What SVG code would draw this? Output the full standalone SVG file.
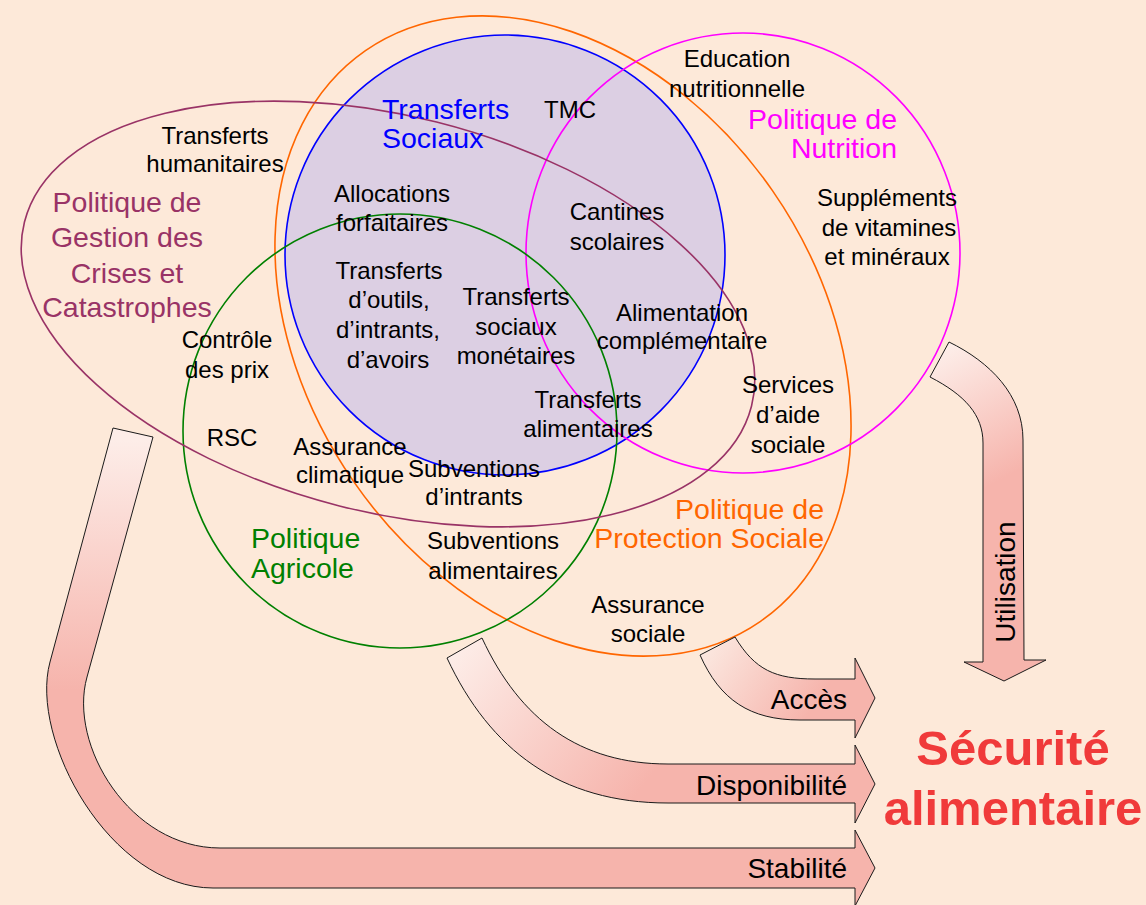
<svg xmlns="http://www.w3.org/2000/svg" width="1146" height="905" viewBox="0 0 1146 905">
<defs>
<style>
.t{font-family:"Liberation Sans",Arial,sans-serif;font-size:24px;fill:#000;text-anchor:middle}
.h{font-family:"Liberation Sans",Arial,sans-serif;font-size:28.5px}
.lab{font-family:"Liberation Sans",Arial,sans-serif;font-size:28px;fill:#000;text-anchor:end}
.ring{fill:none;stroke-width:1.6}
.arrow{stroke:#1a1a1a;stroke-width:1}
</style>
<linearGradient id="gStab" gradientUnits="userSpaceOnUse" x1="0" y1="440" x2="0" y2="690">
<stop offset="0" stop-color="#FDEDE8"/><stop offset="1" stop-color="#F6B4AC"/>
</linearGradient>
<linearGradient id="gDisp" gradientUnits="userSpaceOnUse" x1="460" y1="645" x2="640" y2="790">
<stop offset="0" stop-color="#FDEDE8"/><stop offset="1" stop-color="#F6B4AC"/>
</linearGradient>
<linearGradient id="gAcc" gradientUnits="userSpaceOnUse" x1="712" y1="645" x2="810" y2="712">
<stop offset="0" stop-color="#FBE6DE"/><stop offset="1" stop-color="#F6B4AC"/>
</linearGradient>
<linearGradient id="gUtil" gradientUnits="userSpaceOnUse" x1="935" y1="355" x2="1000" y2="480">
<stop offset="0" stop-color="#FDEDE8"/><stop offset="1" stop-color="#F6B4AC"/>
</linearGradient>
</defs>
<rect width="1146" height="905" fill="#FDE9D9"/>

<g id="transferts-sociaux-fill">
<circle cx="505" cy="255" r="220" fill="#DCCFE3"/>
</g>

<g id="politique-protection-sociale">
<ellipse class="ring" cx="563" cy="336" rx="347" ry="255" transform="rotate(55.3 563 336)" stroke="#FF6600"/>
</g>
<g id="transferts-sociaux">
<circle class="ring" cx="505" cy="255" r="220" stroke="#0000FF"/>
</g>
<g id="politique-nutrition">
<ellipse class="ring" cx="743" cy="253" rx="217" ry="220" stroke="#FF00FF"/>
</g>
<g id="politique-agricole">
<circle class="ring" cx="400" cy="431" r="217" stroke="#008000"/>
</g>
<g id="politique-gestion-crises">
<ellipse class="ring" cx="388" cy="314" rx="375" ry="198" transform="rotate(14.2 388 314)" stroke="#993366"/>
</g>

<g id="connectors">
<path class="arrow" fill="url(#gStab)" d="M113,428 L153,437 L87,677 C68,745 130,848 220,848 L855,848 L855,830 L875,868 L855,906 L855,888 L213,888 C110,888 29,739 50,662 Z"/>
<path class="arrow" fill="url(#gDisp)" d="M482,638 C520,720 580,764 668,764 L855,764 L855,745 L875,784 L855,823 L855,803 L668,803 C560,803 490,750 447,658 Z"/>
<path class="arrow" fill="url(#gAcc)" d="M735,637 C755,670 775,679 815,679 L855,679 L855,658 L875,698 L855,738 L855,720 L800,720 C750,720 720,700 700,655 Z"/>
<path class="arrow" fill="url(#gUtil)" d="M949,342 C990,362 1023,395 1023,440 L1024,660 L1046,660 L1004,681 L964,662 L983,662 L983,443 C983,415 965,395 930,377 Z"/>
<text class="lab" x="847" y="709">Accès</text>
<text class="lab" x="847" y="795">Disponibilité</text>
<text class="lab" x="847" y="878">Stabilité</text>
<text class="lab" transform="translate(1015,582) rotate(-90)" style="text-anchor:middle">Utilisation</text>
</g>

<g id="titles">
<text class="h" fill="#993366" text-anchor="middle"><tspan x="127" y="212">Politique de</tspan><tspan x="127" y="247">Gestion des</tspan><tspan x="127" y="283">Crises et</tspan><tspan x="127" y="317">Catastrophes</tspan></text>
<text class="h" fill="#0000FF"><tspan x="382" y="119">Transferts</tspan><tspan x="382" y="148">Sociaux</tspan></text>
<text class="h" fill="#FF00FF" text-anchor="end"><tspan x="897" y="129">Politique de</tspan><tspan x="897" y="158">Nutrition</tspan></text>
<text class="h" fill="#008000"><tspan x="251" y="548">Politique</tspan><tspan x="251" y="578">Agricole</tspan></text>
<text class="h" fill="#FF6600" text-anchor="end"><tspan x="824" y="519">Politique de</tspan><tspan x="824" y="548">Protection Sociale</tspan></text>
</g>

<g id="n-transferts-humanitaires"><text class="t"><tspan x="215" y="144">Transferts</tspan><tspan x="215" y="172">humanitaires</tspan></text></g>
<g id="n-controle-prix"><text class="t"><tspan x="227" y="348">Contrôle</tspan><tspan x="227" y="378">des prix</tspan></text></g>
<g id="n-rsc"><text class="t" x="232" y="446">RSC</text></g>
<g id="n-assurance-climatique"><text class="t"><tspan x="350" y="455">Assurance</tspan><tspan x="350" y="483">climatique</tspan></text></g>
<g id="n-subventions-intrants"><text class="t"><tspan x="474" y="477">Subventions</tspan><tspan x="474" y="505">d’intrants</tspan></text></g>
<g id="n-subventions-alimentaires"><text class="t"><tspan x="493" y="549">Subventions</tspan><tspan x="493" y="579">alimentaires</tspan></text></g>
<g id="n-assurance-sociale"><text class="t"><tspan x="648" y="613">Assurance</tspan><tspan x="648" y="642">sociale</tspan></text></g>
<g id="n-tmc"><text class="t" x="570" y="118">TMC</text></g>
<g id="n-allocations"><text class="t"><tspan x="392" y="202">Allocations</tspan><tspan x="392" y="231">forfaitaires</tspan></text></g>
<g id="n-cantines"><text class="t"><tspan x="617" y="220">Cantines</tspan><tspan x="617" y="250">scolaires</tspan></text></g>
<g id="n-transferts-outils"><text class="t"><tspan x="389" y="279">Transferts</tspan><tspan x="389" y="308">d’outils,</tspan><tspan x="388" y="338">d’intrants,</tspan><tspan x="388" y="368">d’avoirs</tspan></text></g>
<g id="n-transferts-monetaires"><text class="t"><tspan x="516" y="305">Transferts</tspan><tspan x="516" y="335">sociaux</tspan><tspan x="516" y="364">monétaires</tspan></text></g>
<g id="n-transferts-alimentaires"><text class="t"><tspan x="588" y="408">Transferts</tspan><tspan x="588" y="437">alimentaires</tspan></text></g>
<g id="n-alimentation-complementaire"><text class="t"><tspan x="682" y="321">Alimentation</tspan><tspan x="682" y="349">complémentaire</tspan></text></g>
<g id="n-services-aide-sociale"><text class="t"><tspan x="788" y="393">Services</tspan><tspan x="788" y="423">d’aide</tspan><tspan x="788" y="453">sociale</tspan></text></g>
<g id="n-education-nutritionnelle"><text class="t"><tspan x="737" y="67">Education</tspan><tspan x="737" y="97">nutritionnelle</tspan></text></g>
<g id="n-supplements"><text class="t"><tspan x="887" y="206">Suppléments</tspan><tspan x="889" y="236">de vitamines</tspan><tspan x="887" y="265">et minéraux</tspan></text></g>

<g id="securite-alimentaire">
<text font-family="'Liberation Sans',Arial,sans-serif" font-size="49" font-weight="bold" fill="#F03A3A" text-anchor="middle"><tspan x="1013" y="765">Sécurité</tspan><tspan x="1013" y="825">alimentaire</tspan></text>
</g>
</svg>
